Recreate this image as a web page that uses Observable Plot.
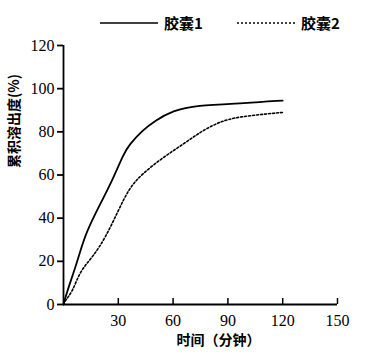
<!DOCTYPE html>
<html><head><meta charset="utf-8">
<script src="https://cdn.jsdelivr.net/npm/d3@7"></script>
<script src="https://cdn.jsdelivr.net/npm/@observablehq/plot@0.6"></script>
<style>
body{margin:0;background:#fff;width:373px;height:354px;overflow:hidden;font-family:"Liberation Serif",serif}
#legend{position:relative;height:30px;font-family:"Noto Sans CJK SC",sans-serif;font-weight:bold;font-size:15px;color:#000}
#legend .it{position:absolute;top:12px;display:flex;align-items:center}
#legend svg{margin-right:6px}
</style></head>
<body>
<div id="legend"></div>
<div id="chart"></div>
<script>
const seriesNames = ["胶囊1", "胶囊2"];
const time1 = [0, 1, 8, 12, 21, 27, 33, 36, 43, 50, 60, 72, 100, 120];
const release1 = [0, 3.5, 21, 33, 48, 58, 70, 74, 80.5, 85.2, 89.8, 92.3, 93.3, 94.5];
const time2 = [0, 1, 5, 9, 16, 23, 30, 36, 43, 55, 66, 75, 85, 95, 120];
const release2 = [0, 1.9, 6, 15.5, 22, 31, 43.5, 54, 60.5, 68.5, 74.5, 80, 84.5, 87, 89];
const xTicks = [30, 60, 90, 120, 150];
const yTicks = [0, 20, 40, 60, 80, 100, 120];
const xLabel = "时间（分钟）";
const yLabel = "累积溶出度(%)";

const data = [
  ...time1.map((t, i) => ({t, v: release1[i], s: seriesNames[0]})),
  ...time2.map((t, i) => ({t, v: release2[i], s: seriesNames[1]}))
];

const leg = document.getElementById("legend");
const legPos = [100, 237];
seriesNames.forEach((n, i) => {
  const d = document.createElement("div");
  d.className = "it"; d.style.left = legPos[i] + "px";
  d.innerHTML = `<svg width="58" height="6"><line x1="0" x2="58" y1="3" y2="3" stroke="#000" stroke-width="1.6" ${i ? 'stroke-dasharray="2,2"' : ''}/></svg><span>${n}</span>`;
  leg.appendChild(d);
});

const chart = Plot.plot({
  width: 373, height: 324,
  marginLeft: 63, marginRight: 36, marginTop: 15, marginBottom: 50,
  style: {fontFamily: "Liberation Serif, serif", fontSize: "16px", color: "#000"},
  x: {domain: [0, 150]},
  y: {domain: [0, 120]},
  marks: [
    Plot.axisY({ticks: yTicks, tickSize: 0, tickPadding: 9, label: null, fontSize: 16, fill: "#000"}),
    Plot.axisX({ticks: xTicks, tickSize: 6, dy: -6, tickFormat: () => "", label: null, stroke: "#000", strokeWidth: 1.5, strokeOpacity: 1}),
    Plot.axisX({ticks: xTicks, tickSize: 0, tickPadding: 10, label: null, fontSize: 16, fill: "#000"}),
    Plot.ruleY(yTicks, {x1: 0, x2: 0, insetLeft: -6, stroke: "#000", strokeWidth: 1.8}),
    Plot.ruleY([0], {stroke: "#000", strokeWidth: 1.8}),
    Plot.ruleX([0], {stroke: "#000", strokeWidth: 1.8}),
    Plot.line(data.filter(d => d.s === seriesNames[0]), {x: "t", y: "v", stroke: "#000", strokeWidth: 1.8, curve: "basis"}),
    Plot.line(data.filter(d => d.s === seriesNames[1]), {x: "t", y: "v", stroke: "#000", strokeWidth: 1.6, strokeDasharray: "2,2", curve: "basis"}),
    Plot.text([yLabel], {frameAnchor: "left", rotate: -90, dx: -49, dy: -7, fill: "#000", fontFamily: "Noto Sans CJK SC", fontWeight: "bold", fontSize: 14}),
    Plot.text([xLabel], {frameAnchor: "bottom", dx: 18, dy: 40, fill: "#000", fontFamily: "Noto Sans CJK SC", fontWeight: "bold", fontSize: 14})
  ]
});
document.getElementById("chart").appendChild(chart);
</script>
</body></html>
